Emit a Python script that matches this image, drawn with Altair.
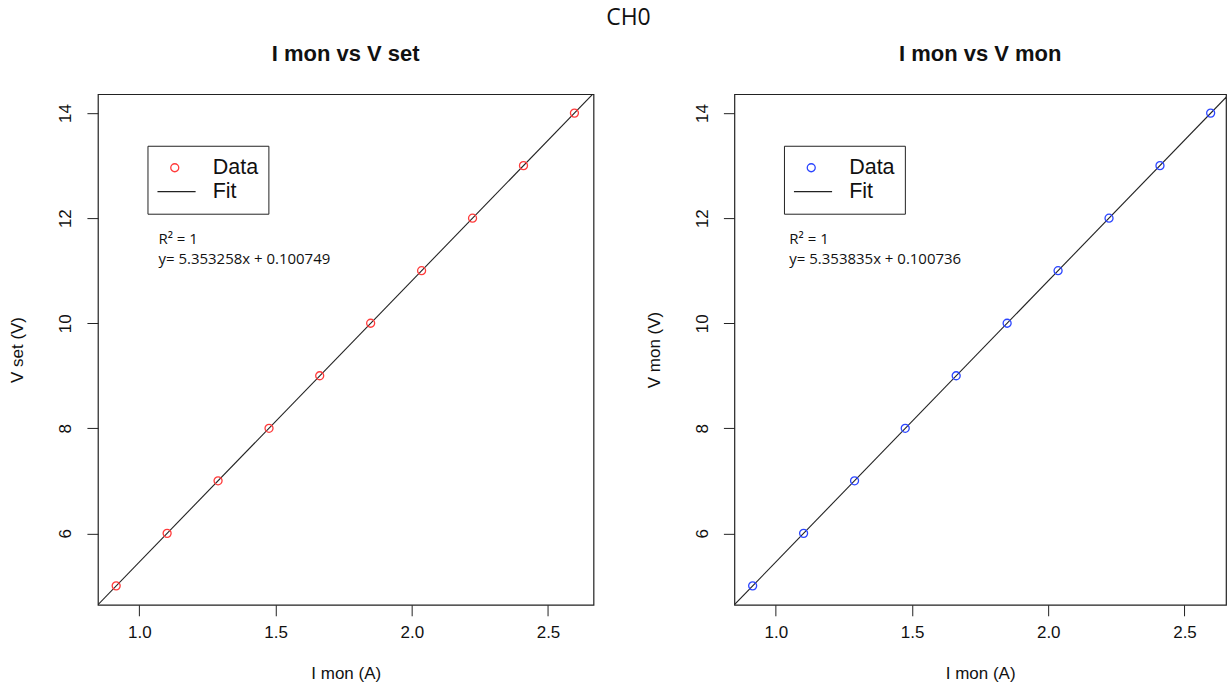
import altair as alt
import pandas as pd

# ---- data ----
I_MON_A = [0.915, 1.102, 1.289, 1.476, 1.662, 1.849, 2.036, 2.223, 2.410, 2.597]
V_SET = [5, 6, 7, 8, 9, 10, 11, 12, 13, 14]
I_MON_B = [0.915, 1.102, 1.289, 1.475, 1.662, 1.849, 2.036, 2.223, 2.410, 2.596]
V_MON = [5.0, 6.0, 7.0, 8.0, 9.0, 10.0, 11.0, 12.0, 13.0, 14.0]
X_TICKS = [1.0, 1.5, 2.0, 2.5]
Y_TICKS = [6, 8, 10, 12, 14]
SERIES = ["Data", "Fit"]
TITLE_A = "I mon vs V set"
TITLE_B = "I mon vs V mon"
YLAB_A = "V set (V)"
YLAB_B = "V mon (V)"
XLAB = "I mon (A)"
R2_TEXT = "R\u00b2 = 1"
EQ_A = "y= 5.353258x + 0.100749"
EQ_B = "y= 5.353835x + 0.100736"
MAIN_TITLE = "CH0"

# ---- style ----
FONT = "Liberation Sans"
NOTE_FONT = "Open Sans"
INK = "#222222"
RED = "#ff3b3b"
BLUE = "#2b45ff"
PW_A, PW_B, PH = 496, 492, 511
X_DOM_A = [0.848, 2.667]
X_DOM_B = [0.848, 0.848 + (2.667 - 0.848) * PW_B / PW_A]
Y_DOM = [4.64, 14.36]
SYM_SIZE = 1190
CIRCLE_PATH = "M-0.232,0A0.232,0.232 0 1,0 0.232,0A0.232,0.232 0 1,0 -0.232,0Z"
LINE_PATH = "M-1.21,0L1.21,0"


def make_legend():
    return alt.Legend(
        title=None, orient="none", legendX=49.6, legendY=51.6, strokeColor=INK,
        padding=10, labelFont=FONT, labelFontSize=21.5, labelColor="#111",
        symbolSize=SYM_SIZE, symbolStrokeWidth=1.3, symbolOffset=-0.7,
        labelOffset=20, rowPadding=0, clipHeight=24,
        labelExpr="datum.label + '\u00a0\u00a0\u00a0'",
    )


def panel(xs, ys, color, title, ylab, eq, x_dom, width, note_x):
    df = pd.DataFrame({"I": xs, "V": ys, "series": ["Data"] * len(xs)})
    base = alt.Chart(df)
    xenc = alt.X(
        "I:Q",
        scale=alt.Scale(domain=x_dom, nice=False, zero=False),
        axis=alt.Axis(
            values=X_TICKS, format=".1f", title=XLAB, grid=False, domain=False,
            tickSize=11, tickColor=INK, tickWidth=1, labelFont=FONT, labelFontSize=17,
            labelColor="#111", labelPadding=9, titleFont=FONT, titleFontSize=17,
            titleFontWeight="normal", titleColor="#111", titlePadding=25, labelFlush=False,
        ),
    )
    yenc = alt.Y(
        "V:Q",
        scale=alt.Scale(domain=Y_DOM, nice=False, zero=False),
        axis=alt.Axis(
            values=Y_TICKS, title=ylab, grid=False, domain=False, tickSize=11,
            tickColor=INK, tickWidth=1, labelAngle=270, labelAlign="center",
            labelBaseline="bottom", labelFont=FONT, labelFontSize=17, labelColor="#111",
            labelPadding=12, titleFont=FONT, titleFontSize=17, titleFontWeight="normal",
            titleColor="#111", titlePadding=30, labelFlush=False,
        ),
    )
    fit = base.transform_regression("I", "V", extent=[0.6, 2.9]).mark_line(
        color=INK, strokeWidth=1.1, clip=True
    ).encode(x=xenc, y=yenc)
    pts = base.mark_point(
        filled=False, size=SYM_SIZE, strokeWidth=1.3, opacity=1
    ).encode(
        x=xenc,
        y=yenc,
        color=alt.Color(
            "series:N",
            scale=alt.Scale(domain=SERIES, range=[color, INK]),
            legend=make_legend(),
        ),
        shape=alt.Shape(
            "series:N",
            scale=alt.Scale(domain=SERIES, range=[CIRCLE_PATH, LINE_PATH]),
            legend=make_legend(),
        ),
    )
    notes = pd.DataFrame({"t": [R2_TEXT, eq]})
    r2 = alt.Chart(notes).transform_filter(alt.datum.t == R2_TEXT).mark_text(
        align="left", baseline="middle", font=NOTE_FONT, fontSize=15, color="#111"
    ).encode(text="t:N", x=alt.value(note_x), y=alt.value(145))
    eqm = alt.Chart(notes).transform_filter(alt.datum.t == eq).mark_text(
        align="left", baseline="middle", font=NOTE_FONT, fontSize=15, color="#111"
    ).encode(text="t:N", x=alt.value(note_x), y=alt.value(165))
    return alt.layer(fit, pts, r2, eqm).properties(
        width=width,
        height=PH,
        title=alt.TitleParams(
            title, font=FONT, fontSize=22, fontWeight="bold", color="#111",
            anchor="middle", frame="group", offset=28,
        ),
    )


left = panel(I_MON_A, V_SET, RED, TITLE_A, YLAB_A, EQ_A, X_DOM_A, PW_A, 60.6)
right = panel(I_MON_B, V_MON, BLUE, TITLE_B, YLAB_B, EQ_B, X_DOM_B, PW_B, 55)

chart = (
    alt.hconcat(left, right, spacing=50)
    .resolve_scale(color="independent", shape="independent")
    .resolve_legend(color="independent", shape="independent")
    .properties(
        title=alt.TitleParams(
            MAIN_TITLE, font=NOTE_FONT, fontSize=23, fontWeight="normal", color="#111",
            anchor="middle", offset=13, dx=11,
        ),
        padding={"left": 8, "top": 6, "right": 0, "bottom": 0},
        background="white",
    )
    .configure_view(stroke=INK, strokeWidth=1.2)
)

chart.save("out.html", embed_options={"renderer": "svg", "actions": False})
